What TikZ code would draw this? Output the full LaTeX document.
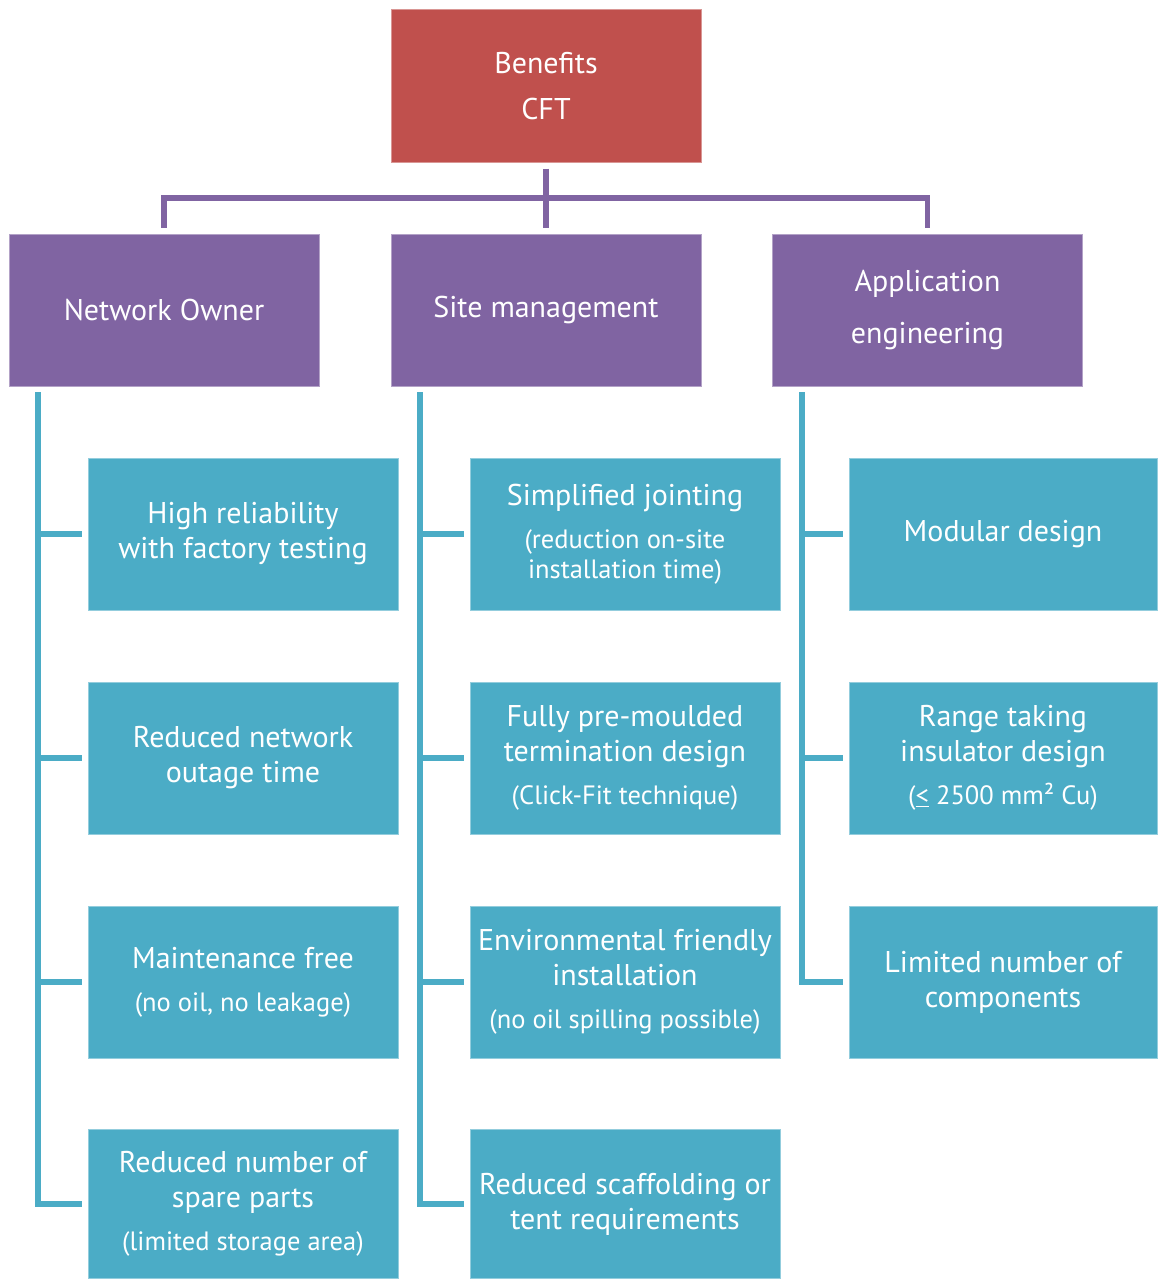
\documentclass[tikz,border=0pt]{standalone}
\usepackage{fontspec}
\setmainfont{PT Sans}
\definecolor{cftred}{RGB}{192,80,77}
\definecolor{cftpurple}{RGB}{128,100,162}
\definecolor{cftteal}{RGB}{75,172,198}
\newcommand{\subf}{\fontsize{26.5}{30}\selectfont}
\begin{document}
\begin{tikzpicture}[x=1pt,y=-1pt,
  box/.style={rectangle,inner sep=0pt,minimum width=310pt,minimum height=152pt,
    text=white,align=center,font=\fontsize{30}{35}\selectfont},
  topbox/.style={box,fill=cftred,draw=cftred!60!white,line width=1pt},
  catbox/.style={box,fill=cftpurple,draw=cftpurple!60!white,line width=1pt},
  itembox/.style={box,fill=cftteal,draw=cftteal!60!white,line width=1pt},
  purpleline/.style={draw=cftpurple,line width=5.5pt,line join=miter},
  tealline/.style={draw=cftteal,line width=5.5pt,line join=miter}]
\useasboundingbox (0,0) rectangle (1157,1279);
% top
\node[topbox,font=\fontsize{30}{46}\selectfont] (top) at (546,86) {Benefits\\CFT};
% categories
\node[catbox] (p1) at (164,310) {Network Owner};
\node[catbox] (p2) at (546,310) {Site management};
\node[catbox,font=\fontsize{30}{52}\selectfont] (p3) at (927.5,310) {Application\\engineering};
% column 1
\node[itembox] (a1) at (243,534) {High reliability\\with factory testing};
\node[itembox] (a2) at (243,758) {Reduced network\\outage time};
\node[itembox] (a3) at (243,982) {Maintenance free\\[8pt]{\subf (no oil, no leakage)}};
\node[itembox,minimum height=149pt] (a4) at (243,1204) {Reduced number of\\spare parts\\[8pt]{\subf (limited storage area)}};
% column 2
\node[itembox] (b1) at (625,534) {Simplified jointing\\[8pt]{\subf (reduction on-site}\\[-5pt]{\subf installation time)}};
\node[itembox] (b2) at (625,758) {Fully pre-moulded\\termination design\\[8pt]{\subf (Click-Fit technique)}};
\node[itembox] (b3) at (625,982) {Environmental friendly\\installation\\[8pt]{\subf (no oil spilling possible)}};
\node[itembox,minimum height=149pt] (b4) at (625,1204) {Reduced scaffolding or\\tent requirements};
% column 3
\node[itembox,minimum width=308pt] (c1) at (1003,534) {Modular design};
\node[itembox,minimum width=308pt] (c2) at (1003,758) {Range taking\\insulator design\\[8pt]{\subf (\underline{<} 2500 mm² Cu)}};
\node[itembox,minimum width=308pt] (c3) at (1003,982) {Limited number of\\components};
% purple connectors
\coordinate (bus) at (546,198);
\draw[purpleline] ([yshift=-6pt]top.south) -- ([yshift=6pt]p2.north);
\draw[purpleline] ([yshift=6pt]p1.north) -- (p1.north |- bus) -- (p3.north |- bus) -- ([yshift=6pt]p3.north);
% teal connectors
\coordinate (v1) at (38,392);
\coordinate (v2) at (420,392);
\coordinate (v3) at (802,392);
\draw[tealline] (v1) |- ([xshift=-6pt]a4.west);
\draw[tealline] (v1 |- a1.west) -- ([xshift=-6pt]a1.west);
\draw[tealline] (v1 |- a2.west) -- ([xshift=-6pt]a2.west);
\draw[tealline] (v1 |- a3.west) -- ([xshift=-6pt]a3.west);
\draw[tealline] (v2) |- ([xshift=-6pt]b4.west);
\draw[tealline] (v2 |- b1.west) -- ([xshift=-6pt]b1.west);
\draw[tealline] (v2 |- b2.west) -- ([xshift=-6pt]b2.west);
\draw[tealline] (v2 |- b3.west) -- ([xshift=-6pt]b3.west);
\draw[tealline] (v3) |- ([xshift=-6pt]c3.west);
\draw[tealline] (v3 |- c1.west) -- ([xshift=-6pt]c1.west);
\draw[tealline] (v3 |- c2.west) -- ([xshift=-6pt]c2.west);
\end{tikzpicture}
\end{document}
